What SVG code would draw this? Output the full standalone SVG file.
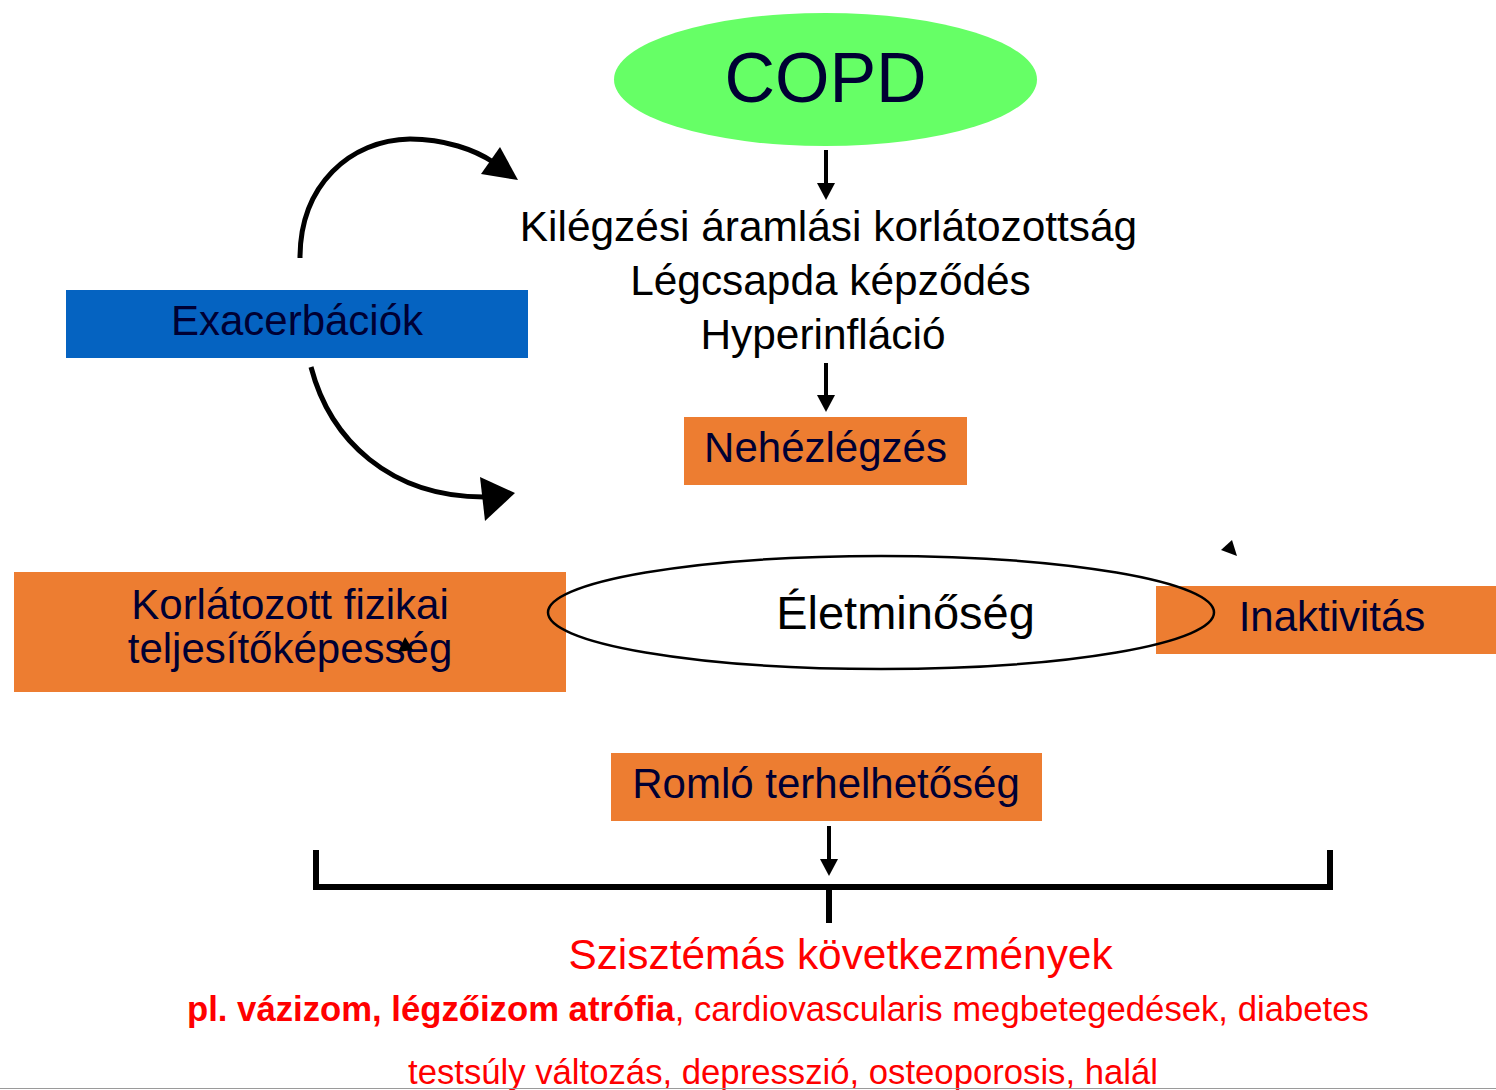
<svg xmlns="http://www.w3.org/2000/svg" width="1496" height="1090" viewBox="0 0 1496 1090">
<style>
text{font-family:"Liberation Sans",Arial,sans-serif;}
.box{fill:#ED7D31;}
.nt{fill:#000033;font-size:42px;text-anchor:middle;}
.bt{fill:#000;font-size:42.4px;text-anchor:middle;}
.red{fill:#FF0000;}
.ln{stroke:#000;stroke-width:4;fill:none;}
.cv{stroke:#000;stroke-width:5;fill:none;}
.ah{fill:#000;}
</style>
<rect x="0" y="0" width="1496" height="1090" fill="#fff"/>
<g id="copd">
<ellipse cx="825.5" cy="79.5" rx="211.5" ry="66.5" fill="#66FF66"/>
<text x="825.5" y="102" class="nt" style="font-size:70px">COPD</text>
</g>
<g id="kilegzes">
<text x="828.5" y="241" class="bt">Kilégzési áramlási korlátozottság</text>
<text x="830.5" y="295" class="bt">Légcsapda képződés</text>
<text x="823" y="349" class="bt">Hyperinfláció</text>
</g>
<g id="exacerbaciok">
<rect x="66" y="290" width="462" height="68" fill="#0563C1"/>
<text x="297" y="335" class="nt">Exacerbációk</text>
</g>
<g id="nehezlegzes">
<rect x="684" y="417" width="283" height="68" class="box"/>
<text x="825.5" y="462" class="nt">Nehézlégzés</text>
</g>
<g id="korlatozott">
<rect x="14" y="572" width="552" height="120" class="box"/>
<text x="290" y="619" class="nt">Korlátozott fizikai</text>
<text x="290" y="663" class="nt">teljesítőképesség</text>
</g>
<g id="inaktivitas">
<rect x="1156" y="586" width="340" height="68" class="box"/>
<text x="1332" y="631" class="nt">Inaktivitás</text>
</g>
<g id="eletminoseg">
<ellipse cx="881" cy="612.5" rx="333" ry="56.5" fill="none" stroke="#000" stroke-width="2.5"/>
<text x="905.5" y="629" class="bt" style="font-size:47px">Életminőség</text>
</g>
<g id="romlo">
<rect x="611" y="753" width="431" height="68" class="box"/>
<text x="826" y="798" class="nt">Romló terhelhetőség</text>
</g>
<g id="connectors">
<line x1="826" y1="150" x2="826" y2="185" class="ln"/>
<polygon points="817,183 835,183 826,200" class="ah"/>
<line x1="826" y1="363" x2="826" y2="397" class="ln"/>
<polygon points="817,395 835,395 826,412" class="ah"/>
<line x1="829" y1="826" x2="829" y2="861" class="ln"/>
<polygon points="820,859 838,859 829,876" class="ah"/>
<path d="M300,258 C300,185 350,140 410,139 C445,139 475,150 493,162" class="cv"/>
<polygon points="518,180 481,174 500,147" class="ah"/>
<path d="M311,367 C330,440 390,497 484,497" class="cv"/>
<polygon points="515,493 480,477 485,521" class="ah"/>
<polygon points="1232,540 1221,550 1237,556" class="ah"/>
<polygon points="405,637 398,652 413,650" class="ah"/>
<path d="M316,850 L316,887 L1330,887 L1330,850" fill="none" stroke="#000" stroke-width="6"/>
<line x1="829" y1="887" x2="829" y2="923" stroke="#000" stroke-width="6"/>
</g>
<g id="kovetkezmenyek">
<text x="840.5" y="969" class="red" style="font-size:42.4px" text-anchor="middle">Szisztémás következmények</text>
<text x="187" y="1021" class="red" style="font-size:34.7px"><tspan font-weight="bold">pl. vázizom, légzőizom atrófia</tspan>, cardiovascularis megbetegedések, diabetes</text>
<text x="408" y="1084" class="red" style="font-size:34.7px">testsúly változás, depresszió, osteoporosis, halál</text>
</g>
<line x1="0" y1="1088.5" x2="1496" y2="1088.5" stroke="#9a9a9a" stroke-width="1"/>
</svg>
